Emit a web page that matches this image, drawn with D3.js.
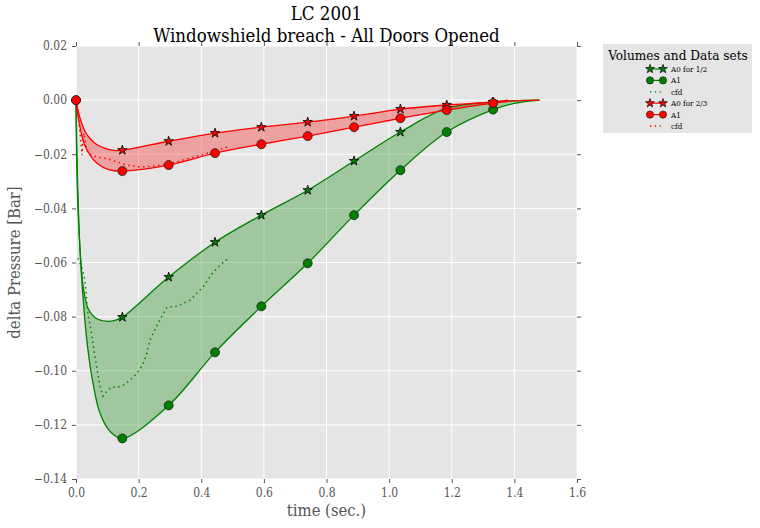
<!DOCTYPE html>
<html>
<head>
<meta charset="utf-8">
<script src="https://cdn.jsdelivr.net/npm/d3@7"></script>
<style>
  body { margin: 0; background: #fff; }
  text { font-family: "DejaVu Serif", serif; font-stretch: condensed; }
</style>
</head>
<body>
<script>
// marker times (sec.)
var markerT = [0, 0.148, 0.296, 0.444, 0.592, 0.74, 0.888, 1.036, 1.184, 1.332];

// volume 1/2 (green)
var greenA0 = [0, -0.0802, -0.0654, -0.0525, -0.0425, -0.0333, -0.0225, -0.0118, -0.0030, -0.0007];
var greenA1 = [0, -0.1250, -0.1128, -0.0932, -0.0762, -0.0603, -0.0425, -0.0259, -0.0118, -0.0035];
// volume 2/3 (red)
var redA0 = [0, -0.0185, -0.0152, -0.0122, -0.0100, -0.0081, -0.0059, -0.0033, -0.0018, -0.0007];
var redA1 = [0, -0.0262, -0.0240, -0.0196, -0.0163, -0.0133, -0.0100, -0.0067, -0.0037, -0.0011];

// extra points of the fitted curves before the first marker and after the last
var greenA0Head = [[0.0032, -0.0277], [0.0112, -0.0518], [0.0224, -0.0684], [0.0383, -0.0769], [0.0639, -0.0806], [0.0958, -0.0817], [0.1214, -0.0815]];
var greenA1Head = [[0.0048, -0.0296], [0.0128, -0.0555], [0.0256, -0.0776], [0.0383, -0.0924], [0.0543, -0.1046], [0.0767, -0.1157], [0.1086, -0.1224]];
var redA0Head = [[0.0064, -0.0037], [0.016, -0.0078], [0.0287, -0.0115], [0.0447, -0.0142], [0.0671, -0.0165], [0.0958, -0.0179], [0.1214, -0.0186]];
var redA1Head = [[0.0048, -0.0044], [0.0128, -0.0100], [0.0256, -0.0159], [0.0447, -0.0203], [0.0671, -0.0233], [0.0958, -0.0253], [0.1214, -0.0261]];
var greenA0Tail = [[1.40, -0.0002], [1.48, 0]];
var greenA1Tail = [[1.40, -0.0012], [1.48, 0]];
var redA0Tail = [[1.38, 0]];
var redA1Tail = [[1.40, -0.0003], [1.48, 0]];

// cfd results
var greenCfd = [[0.0064, -0.0584], [0.0128, -0.0603], [0.0192, -0.0621], [0.0271, -0.0658], [0.0319, -0.0702],
  [0.0351, -0.0758], [0.0399, -0.0802], [0.0479, -0.0850], [0.0559, -0.0913], [0.0655, -0.0983], [0.0767, -0.1057],
  [0.0862, -0.1094], [0.0990, -0.1076], [0.1118, -0.1061], [0.1310, -0.1061], [0.1501, -0.1054], [0.1725, -0.1035],
  [0.1948, -0.1009], [0.2108, -0.0983], [0.2236, -0.0946], [0.2363, -0.0887], [0.2619, -0.0824], [0.2906, -0.0765],
  [0.3226, -0.0762], [0.3641, -0.0739], [0.4056, -0.0691], [0.4375, -0.0636], [0.4663, -0.0603], [0.4918, -0.0580]];
var redCfd = [[0, 0], [0.0064, -0.0048], [0.0112, -0.0100], [0.0160, -0.0155], [0.0192, -0.0203], [0.0224, -0.0148],
  [0.0256, -0.0122], [0.0303, -0.0166], [0.0383, -0.0196], [0.0671, -0.0211], [0.0990, -0.0216], [0.1619, -0.0240],
  [0.2044, -0.0247], [0.2459, -0.0244], [0.2897, -0.0237], [0.3536, -0.0218], [0.4174, -0.0197], [0.4918, -0.0170]];

var xTicks = [0, 0.2, 0.4, 0.6, 0.8, 1.0, 1.2, 1.4, 1.6];
var yTicks = [0.02, 0, -0.02, -0.04, -0.06, -0.08, -0.10, -0.12, -0.14];

var svgWidth = 760, svgHeight = 528;
var margin = {top: 46, right: 183, bottom: 49, left: 76};
var width = svgWidth - margin.left - margin.right;
var height = svgHeight - margin.top - margin.bottom;

var svg = d3.select("body").append("svg")
  .attr("width", svgWidth)
  .attr("height", svgHeight);

var g = svg.append("g")
  .attr("transform", "translate(" + margin.left + "," + margin.top + ")");

var x = d3.scaleLinear().domain([0, 1.6]).range([0, width]);
var y = d3.scaleLinear().domain([-0.14, 0.02]).range([height, 0]);

g.append("rect").attr("width", width).attr("height", height).attr("fill", "#e5e5e5");

// grid
g.selectAll(".vgrid").data(xTicks).enter().append("line")
  .attr("x1", d => x(d)).attr("x2", d => x(d)).attr("y1", 0).attr("y2", height)
  .attr("stroke", "#fff").attr("stroke-width", 1);
g.selectAll(".hgrid").data(yTicks).enter().append("line")
  .attr("y1", d => y(d)).attr("y2", d => y(d)).attr("x1", 0).attr("x2", width)
  .attr("stroke", "#fff").attr("stroke-width", 1);

// axes
function styleAxis(sel) {
  sel.select(".domain").remove();
  sel.selectAll(".tick line").attr("stroke", "#555");
  sel.selectAll(".tick text").attr("fill", "#555").style("font-size", "12px");
}
g.append("g").attr("transform", "translate(0," + height + ")")
  .call(d3.axisBottom(x).tickValues(xTicks).tickFormat(d3.format(".1f")).tickSize(4).tickPadding(5))
  .call(styleAxis);
g.append("g")
  .call(d3.axisTop(x).tickValues(xTicks).tickFormat("").tickSize(4))
  .call(styleAxis);
g.append("g")
  .call(d3.axisLeft(y).tickValues(yTicks).tickFormat(d3.format(".2f")).tickSize(4).tickPadding(5))
  .call(styleAxis);
g.append("g").attr("transform", "translate(" + width + ",0)")
  .call(d3.axisRight(y).tickValues(yTicks).tickFormat("").tickSize(4))
  .call(styleAxis);

function build(head, vals, tail) {
  var pts = [[markerT[0], vals[0]]].concat(head);
  for (var i = 1; i < markerT.length; i++) pts.push([markerT[i], vals[i]]);
  return pts.concat(tail);
}

var line = d3.line().x(d => x(d[0])).y(d => y(d[1])).curve(d3.curveCatmullRom.alpha(0.5));
var lineRaw = d3.line().x(d => x(d[0])).y(d => y(d[1]));

function band(a, b) {
  var end = Math.min(a[a.length - 1][0], b[b.length - 1][0]);
  var aa = a.filter(d => d[0] <= end);
  var bb = b.filter(d => d[0] <= end).reverse();
  return line(aa) + line(bb).replace(/^M/, "L") + "Z";
}

var series = [
  {color: "#008000", a0: build(greenA0Head, greenA0, greenA0Tail), a1: build(greenA1Head, greenA1, greenA1Tail), v0: greenA0, v1: greenA1, cfd: greenCfd},
  {color: "#ff0000", a0: build(redA0Head, redA0, redA0Tail), a1: build(redA1Head, redA1, redA1Tail), v0: redA0, v1: redA1, cfd: redCfd}
];

var star = d3.symbol().type(d3.symbolStar).size(28);

series.forEach(function(s) {
  g.append("path").attr("d", band(s.a0, s.a1))
    .attr("fill", s.color).attr("fill-opacity", 0.3).attr("stroke", "none");
  g.append("path").attr("d", line(s.a0)).attr("fill", "none").attr("stroke", s.color).attr("stroke-width", 1.3);
  g.append("path").attr("d", line(s.a1)).attr("fill", "none").attr("stroke", s.color).attr("stroke-width", 1.3);
  g.append("path").attr("d", lineRaw(s.cfd)).attr("fill", "none").attr("stroke", s.color)
    .attr("stroke-width", 1.5).attr("stroke-dasharray", "1.5,3.5");
  // the star at t=0 sits under the circle in the reference
  g.selectAll(null).data(markerT.slice(1)).enter().append("path")
    .attr("d", star)
    .attr("transform", (d, i) => "translate(" + x(d) + "," + y(s.v0[i + 1]) + ")")
    .attr("fill", s.color).attr("stroke", "#111").attr("stroke-width", 0.9);
  g.selectAll(null).data(markerT).enter().append("circle")
    .attr("cx", d => x(d)).attr("cy", (d, i) => y(s.v1[i])).attr("r", 4.5)
    .attr("fill", s.color).attr("stroke", "#222").attr("stroke-width", 0.8);
});

// titles
svg.append("text").attr("x", margin.left + width / 2).attr("y", 19.5)
  .attr("text-anchor", "middle").style("font-size", "18.5px").text("LC 2001");
svg.append("text").attr("x", margin.left + width / 2).attr("y", 41.5)
  .attr("text-anchor", "middle").style("font-size", "18.5px").text("Windowshield breach - All Doors Opened");
svg.append("text").attr("x", margin.left + width / 2).attr("y", 516)
  .attr("text-anchor", "middle").attr("fill", "#555").style("font-size", "16.5px").text("time (sec.)");
svg.append("text").attr("transform", "rotate(-90)")
  .attr("x", -(margin.top + height / 2)).attr("y", 20)
  .attr("text-anchor", "middle").attr("fill", "#555").style("font-size", "16.5px").text("delta Pressure [Bar]");

// legend
var legendItems = [
  {label: "A0 for 1/2", color: "#008000", kind: "star"},
  {label: "A1", color: "#008000", kind: "circle"},
  {label: "cfd", color: "#008000", kind: "dot"},
  {label: "A0 for 2/3", color: "#ff0000", kind: "star"},
  {label: "A1", color: "#ff0000", kind: "circle"},
  {label: "cfd", color: "#ff0000", kind: "dot"}
];
var lg = svg.append("g").attr("transform", "translate(603,44)");
lg.append("rect").attr("width", 149).attr("height", 89).attr("fill", "#e5e5e5");
lg.append("text").attr("x", 75).attr("y", 16).attr("text-anchor", "middle").style("font-size", "13.5px").text("Volumes and Data sets");
var li = lg.selectAll(".li").data(legendItems).enter().append("g")
  .attr("transform", (d, i) => "translate(0," + (25 + i * 11.4) + ")");
li.append("line").attr("x1", 47).attr("x2", 60)
  .attr("stroke", d => d.color).attr("stroke-width", d => d.kind == "dot" ? 1.3 : 1.2)
  .attr("stroke-dasharray", d => d.kind == "dot" ? "1.3,3.5" : null);
li.filter(d => d.kind == "star").selectAll("path").data([47, 60]).enter().append("path")
  .attr("d", d3.symbol().type(d3.symbolStar).size(24))
  .attr("transform", d => "translate(" + d + ",0)")
  .attr("fill", function() { return d3.select(this.parentNode).datum().color; })
  .attr("stroke", "#111").attr("stroke-width", 0.8);
li.filter(d => d.kind == "circle").selectAll("circle").data([47, 60]).enter().append("circle")
  .attr("cx", d => d).attr("r", 3.6)
  .attr("fill", function() { return d3.select(this.parentNode).datum().color; })
  .attr("stroke", "#222").attr("stroke-width", 0.7);
li.append("text").attr("x", 68).attr("y", 3).style("font-size", "8px").text(d => d.label);
</script>
</body>
</html>
